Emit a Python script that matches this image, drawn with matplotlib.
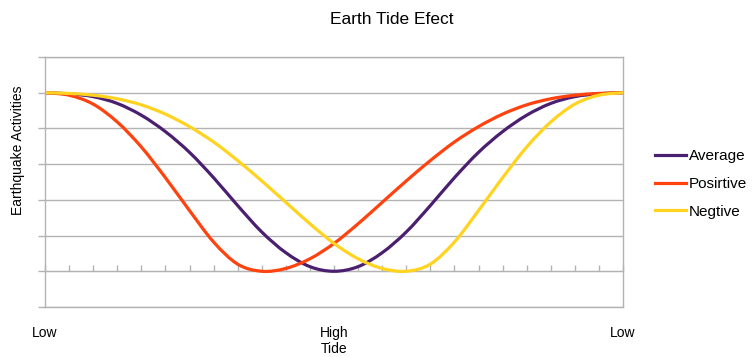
import matplotlib
matplotlib.use("Agg")
import matplotlib.pyplot as plt
import numpy as np
from matplotlib.path import Path
from matplotlib.patches import PathPatch

plt.rcParams["font.family"] = ["Liberation Sans", "DejaVu Sans"]

# tide phase steps, Low -> High -> Low
steps = np.arange(25)
tick_pos = [0, 12, 24]
tick_labels = ["Low", "High\nTide", "Low"]

average = [6.0, 5.97, 5.89, 5.70, 5.37, 4.91, 4.33, 3.62, 2.84, 2.10, 1.52, 1.13, 1.0,
           1.13, 1.52, 2.10, 2.84, 3.62, 4.33, 4.91, 5.37, 5.70, 5.89, 5.97, 6.0]
positive = [6.0, 5.93, 5.68, 5.18, 4.48, 3.62, 2.70, 1.82, 1.20, 1.0, 1.08, 1.35, 1.78,
            2.33, 2.93, 3.53, 4.10, 4.62, 5.05, 5.40, 5.66, 5.83, 5.93, 5.98, 6.0]
negative = [6.0, 5.98, 5.93, 5.83, 5.66, 5.40, 5.05, 4.62, 4.10, 3.53, 2.93, 2.33, 1.78,
            1.35, 1.08, 1.0, 1.20, 1.82, 2.70, 3.62, 4.48, 5.18, 5.68, 5.93, 6.0]

series = [
    ("Average", average, "#4B1F6F"),
    ("Posirtive", positive, "#FF420E"),
    ("Negtive", negative, "#FFD320"),
]
GRID = "#B3B3B3"
LW = 2.3


def smooth_path(x, y):
    """Catmull-Rom style cubic Bezier through the points (like a smoothed line)."""
    pts = np.column_stack([x, y]).astype(float)
    n = len(pts)
    verts = [pts[0]]
    codes = [Path.MOVETO]
    for i in range(n - 1):
        p0 = pts[max(i - 1, 0)]
        p1 = pts[i]
        p2 = pts[i + 1]
        p3 = pts[min(i + 2, n - 1)]
        verts += [p1 + (p2 - p0) / 6.0, p2 - (p3 - p1) / 6.0, p2]
        codes += [Path.CURVE4] * 3
    return Path(verts, codes)


fig = plt.figure(figsize=(7.56, 3.57), dpi=100)
ax = fig.add_axes([45 / 756, 50 / 357, 578 / 756, 250 / 357])

for name, vals, color in series:
    ax.add_patch(PathPatch(smooth_path(steps, vals), fill=False, edgecolor=color,
                           lw=LW, capstyle="butt", joinstyle="round"))
    ax.plot([], [], color=color, lw=LW, label=name)

ax.set_xlim(0, 24)
ax.set_ylim(0, 7)

for s in ax.spines.values():
    s.set_color(GRID)
    s.set_linewidth(1.0)

ax.set_yticks(np.arange(0, 8))
ax.set_yticklabels([])
ax.tick_params(axis="y", direction="out", length=5, color=GRID, width=1)
ax.yaxis.grid(True, color=GRID, lw=1.0)
ax.set_axisbelow(True)

ax.set_xticks(tick_pos)
ax.set_xticklabels(tick_labels, fontsize=10, linespacing=1.1)
ax.tick_params(axis="x", length=0, pad=14)
xlabels = ax.get_xticklabels()
xlabels[0].set_x(0.2)
xlabels[-1].set_x(23.65)

# category axis crossing at value 1, with small tick marks between steps
cat_axis = ax.secondary_xaxis(1 / 7)
cat_axis.set_xticks(steps)
cat_axis.set_xticklabels([])
cat_axis.tick_params(axis="x", direction="in", length=4, color=GRID, width=1)
cat_axis.spines["bottom"].set_color(GRID)

ax.set_ylabel("Earthquake Activities", fontsize=10)
ax.yaxis.set_label_coords(-0.035, 0.628)

fig.text(391.5 / 756, 1 - 19 / 357, "Earth Tide Efect", fontsize=12.5,
         ha="center", va="center")

fig.legend(loc="center left", bbox_to_anchor=(655 / 756, 1 - 184 / 357),
           frameon=False, fontsize=11, handlelength=2.0, handletextpad=0.2,
           labelspacing=0.9, borderpad=0, borderaxespad=0)

fig.savefig("out.png", dpi=100)
